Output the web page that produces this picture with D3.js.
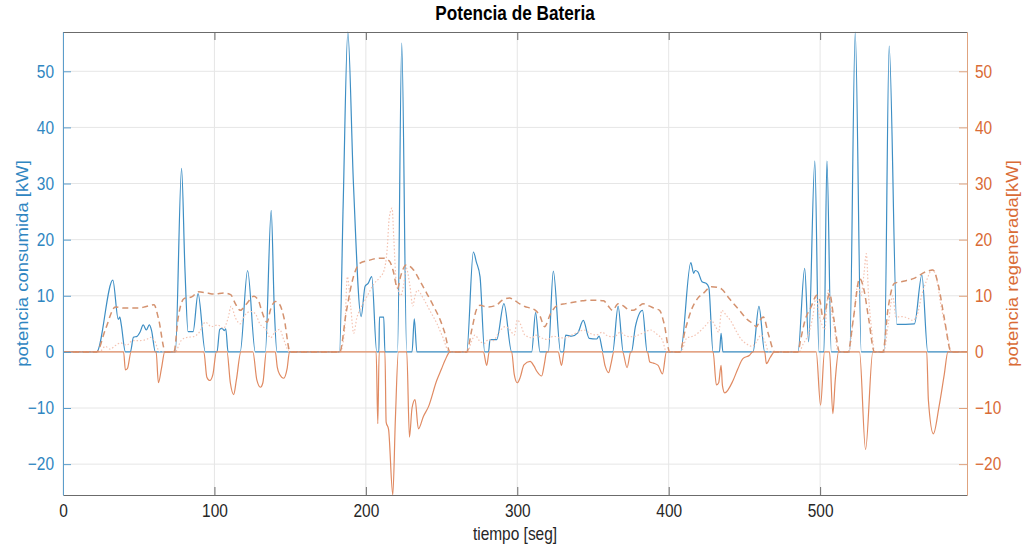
<!DOCTYPE html>
<html>
<head>
<meta charset="utf-8">
<script src="https://cdn.jsdelivr.net/npm/d3@7"></script>
<style>
  body { margin: 0; background: #fff; }
  svg text { font-family: "Liberation Sans", Arial, Helvetica, sans-serif; }
</style>
</head>
<body>
<svg id="chart" width="1026" height="544"></svg>
<script>
// potencia consumida (blue, left axis)
var consT = [0, 22.2, 32.9, 36.5, 37.5, 38.5, 41.2, 44.5, 46.5, 49, 51, 53, 55, 57, 58.5, 61,
  74.2, 78.3, 80.5, 82.6, 85.9, 89.2, 94, 101.7, 103.5, 105, 106.5, 107.5, 109, 117, 121.9, 127,
  133.6, 137.5, 139.5, 141.3, 182.6, 185, 188.1, 191.8, 196.9, 199.5, 201.5, 203.9, 207.2, 208.6,
  209, 211.8, 212.6, 220.9, 223.7, 227, 230.5, 232, 233.7, 266.6, 271, 273, 275.4, 278.5, 281, 282,
  286.4, 291.2, 296.3, 309.5, 312.1, 315, 320.5, 323.8, 328.6, 330.5, 332, 335.8, 340, 343.6, 347.5,
  352.4, 354, 356.8, 363, 366.6, 370, 375.4, 378, 382.7, 385.8, 407.8, 414.6, 416.5, 417.5, 419.4,
  422, 424.9, 426.5, 429.3, 433.5, 434.6, 435.8, 455.7, 459.6, 463.4, 485.4, 489.8, 492.4, 496.5,
  499.2, 502.5, 504.5, 507.4, 519.5, 523.2, 527.2, 542.5, 545.6, 550.7, 562.3, 567.2, 571.1, 597];
var consV = [0, 0, 12.8, 5.8, 6.2, 4.8, 0, 0, 2.6, 2.8, 3.6, 4.8, 3.9, 4.8, 3.8, 0,
  0, 32.7, 15, 3.6, 3.6, 10.4, 0, 0, 4.0, 4.2, 3.8, 4.1, 0, 0, 14.5, 0,
  0, 25.2, 8, 0, 0, 26, 57, 30, 6.3, 11.7, 12.2, 13.4, 0, 0,
  6.2, 6.2, 0, 0, 55, 0, 0, 5.9, 0, 0, 17.8, 16, 13.4, 0, 0, 2.2,
  2.2, 8.6, 0, 0, 7.0, 0, 0, 14.4, 0, 0, 3, 2.8, 3.4, 5.6, 2.4,
  2.3, 2.8, 0, 0, 8.1, 0, 0, 4.5, 7.4, 0, 0, 15.9, 14, 14.5, 14.2,
  12.5, 12.2, 11.5, 0, 0, 3.3, 0, 0, 8.1, 0, 0, 14.9, 1.8, 34,
  0, 0, 34, 0, 0, 57, 0, 0, 54.5, 4.9, 5.0, 13.7, 0, 0];

// potencia regenerada (orange solid, right axis)
var regT = [0, 40, 41.2, 42.5, 45, 61.5, 63, 65, 67.2, 93, 95, 97, 99, 101.3, 108.3, 110.5, 112.7,
  114.5, 117.5, 125.4, 128, 130.4, 132, 134.3, 140.2, 141.5, 143, 145.8, 148, 149.6, 206.8, 207.9,
  208.8, 212.6, 213.4, 215, 217.8, 219.5, 221.5, 227, 228.8, 230.5, 232.5, 234.7, 238, 241.3, 246.8,
  250, 252.3, 255.6, 277.6, 279.8, 281.5, 296.3, 298, 300, 302, 304.4, 308.5, 311, 313, 316.1, 318,
  319.4, 327, 329.2, 331, 355.9, 358, 360.3, 362, 363.8, 369.5, 372.5, 375, 386, 387.5, 390, 393,
  395.9, 398.5, 429.3, 431.5, 433, 434.6, 435.5, 437, 442.5, 445.7, 449, 453.4, 455.5, 463.4, 464.5,
  467, 470, 497.4, 500.3, 502.9, 506.2, 508.4, 510, 512.2, 526, 530, 534.8, 570.4, 571.5, 574.8,
  578.5, 582, 584.4, 597];
var regV = [0, 0, -3.2, -3.0, 0, 0, -5.5, -3, 0, 0, -4.5, -5.1, -4, 0, 0, -5.5, -7.6,
  -5, 0, 0, -5, -6.3, -5.5, 0, 0, -2.7, -4, -4.7, -3, 0, 0, -12.8,
  0, 0, -12.5, -13.8, -25.5, -12, 0, 0, -15.2, -10, -8.5, -13.7, -11.5, -9.8, -5.1,
  -3, -1.5, 0, 0, -2.4, 0, 0, -4, -5.5, -4.5, -2.3, -1.7, -2.5, -3.5, -4.3, -2,
  0, 0, -2.4, 0, 0, -2.5, -3.7, -2, 0, 0, -2.8, 0, 0, -1.8, -2, -2.4,
  -3.9, 0, 0, -5.9, -5.5, -2.4, -6, -7.3, -5.1, -3, -1.2, -0.6, 0, 0, -2.1,
  -1, 0, 0, -9.5, 0, 0, -11, -5, 0, 0, -17.4, 0, 0, -8.6, -14.6,
  -9.8, -4, 0, 0];

// curva discontinua (orange dashed)
var dashT = [0, 22.2, 28, 34.6, 40, 50, 55, 60.1, 63, 67.7, 73.3, 76, 79.9, 85, 89.6, 95, 100,
  106.3, 110.7, 114, 117, 121, 126, 129, 131, 134.8, 137, 140.2, 143, 146, 150, 182.8, 187, 191.8,
  196.2, 202, 206, 211.6, 215.5, 218, 220.9, 223, 226.6, 231.5, 236, 240.3, 245, 249.1, 252, 255.6,
  266.6, 270, 273, 275.4, 280, 286, 290, 294.9, 298, 302, 305, 308.5, 312, 315, 318, 322, 326, 332,
  338, 343, 347, 352, 357, 360, 363, 366.6, 370, 373, 376.5, 380, 383, 387, 391, 394, 397, 400.7,
  407.3, 411, 415, 419, 422.7, 428.2, 432, 435, 440, 446.8, 451, 455.7, 458, 460, 462.5, 466, 470,
  485.4, 487, 490, 494, 497.8, 500, 502, 506.3, 509, 512.9, 518.4, 522, 526.1, 529, 532, 535.9,
  541.4, 545, 549, 555, 562, 570, 574.5, 578, 582, 586.6, 597];
var dashV = [0, 0, 4, 8, 7.8, 7.8, 8.1, 8.4, 6, 0, 0, 6, 9.5, 9.8, 10.7, 10.5, 10.3,
  10.5, 10.2, 8.5, 7.4, 8.5, 9.9, 9.2, 7.5, 5.3, 7.5, 9, 8.5, 6, 0, 0, 7, 13.4,
  15.8, 16.3, 16.6, 16.7, 16.2, 14.5, 11.3, 13.5, 15.5, 14.6, 12.5, 10.4, 8, 5.7, 3.5, 0,
  0, 4, 7.5, 8.3, 8, 8.3, 9.2, 9.6, 9.2, 8.5, 8.1, 7.8, 7.4, 6.4, 4.5, 6.8, 8.2, 8.6,
  8.9, 9.1, 9.2, 9.2, 9.1, 8.2, 7.4, 8.6, 8.2, 7.6, 7.4, 8, 8.6, 8.2, 7.7, 7.4, 5, 0,
  0, 4, 7.5, 9.5, 10.4, 11.6, 11.5, 11.2, 9.5, 7.4, 6, 5, 4.5, 5.5, 6.2, 3, 0,
  0, 2, 5.6, 8, 10.1, 9, 5.9, 10.4, 6, 0, 0, 6, 13.1, 11, 6, 0,
  0, 8, 12.2, 12.6, 13.1, 14.3, 14.6, 12, 6, 0, 0];

// curva punteada (light dotted)
var dotT = [0, 24, 28, 31, 35, 38, 42, 46, 50, 55, 58, 60, 64, 74, 78, 82, 86, 90, 94, 98, 102,
  106, 109, 111, 114, 117, 120, 124, 127, 130, 134, 137, 140, 143, 146, 149.6, 183, 186, 187.8, 190,
  192, 194, 197, 201, 205, 209, 212, 214, 215.5, 217.3, 218.5, 220, 221.5, 223, 225, 226.6, 229,
  231, 232.5, 234, 238, 242, 247, 251, 255, 267, 270, 272, 275, 278, 281, 284, 288, 292, 295, 298,
  300, 302, 305, 310, 312, 316, 320, 324, 328, 332, 336, 340, 344, 348, 352, 356, 360, 364, 368,
  372, 376, 380, 384, 388, 392, 396, 398.5, 408, 412, 416, 420, 424, 428, 431, 433, 435, 438, 441,
  445, 448, 451, 455, 458, 461, 464, 466, 486, 489, 492, 495, 497.5, 499, 501, 503, 505.5, 507,
  509, 512, 519, 522, 525, 527, 529, 530.5, 532, 534, 536, 542, 545, 548, 550, 554, 558, 561, 564,
  567, 570, 574, 576, 580, 584, 586.6, 597];
var dotV = [0, 0, 1, 0.5, 1.2, 1.6, 1.2, 2, 2, 2.2, 2.6, 2.2, 0, 0, 2, 2.6, 2.7, 3.5, 5.3, 4.5, 4.8,
  4.2, 6, 8.1, 6, 5, 6.5, 7.2, 6.8, 5, 4, 2.5, 3.5, 4, 2, 0, 0, 4, 13.4, 8,
  3.3, 6, 8, 10, 12, 13.2, 14.5, 18, 24, 25.6, 20, 12.5, 10.8, 10, 12, 15, 12,
  8.2, 10, 11, 9.5, 7.5, 5, 2.5, 0, 0, 2, 3, 2, 1.5, 2.2, 2, 3.5, 4.5, 4, 3,
  5.7, 5, 3, 2.5, 3, 2.5, 2.2, 2.8, 2.5, 2.5, 3, 3.5, 3.9, 3.3, 3, 3.5, 2.8, 2.7, 3.5,
  2.8, 2.7, 3, 3.5, 3.9, 3.2, 2, 0, 0, 2.5, 2.8, 3.5, 4.6, 5.6, 4.5, 3.5, 7.4, 6.5, 5.5,
  3.5, 2.2, 1.5, 1, 1.8, 3, 1.5, 0, 0, 1.5, 3, 6, 10, 7, 5, 4, 11, 8,
  5, 0, 0, 6, 12, 10, 14, 17.5, 10, 4, 0, 0, 5, 10, 6.2, 6.3, 6.0, 5.6, 6.5,
  10, 12.5, 14.6, 14, 8, 3, 0, 0];

var xTicks = [0, 100, 200, 300, 400, 500];
var yTicks = [-20, -10, 0, 10, 20, 30, 40, 50];

var titleText = 'Potencia de Bateria';
var xLabel = 'tiempo [seg]';
var yLeftLabel = 'potencia consumida [kW]';
var yRightLabel = 'potencia regenerada[kW]';

var blue = '#3d8ec4', blueText = '#2f86c1', blueAxis = '#5b9dcb';
var orange = '#e08a62', orangeText = '#d96b36', orangeAxis = '#dfa37f';
var dashColor = '#d4926f', dotColor = '#f4c3b2';

var margin = {top: 32, right: 59, bottom: 49, left: 63},
    width = 1026 - margin.left - margin.right,
    height = 544 - margin.top - margin.bottom;

var squeezeX = 0.86;

var svg = d3.select('#chart');
var g = svg.append('g').attr('transform', 'translate(' + margin.left + ',' + margin.top + ')');

var x = d3.scaleLinear().domain([0, 597]).range([0, width]);

var allV = consV.concat(regV, dashV, dotV);
var yLeft = d3.scaleLinear().domain(d3.extent(allV)).range([height, 0]);
var yRight = d3.scaleLinear().domain(d3.extent(allV)).range([height, 0]);

// grid
g.append('g').selectAll('line').data(xTicks).enter().append('line')
  .attr('x1', function(d) { return x(d); }).attr('x2', function(d) { return x(d); })
  .attr('y1', 0).attr('y2', height)
  .attr('stroke', '#e6e6e6').attr('stroke-width', 1);
g.append('g').selectAll('line').data(yTicks).enter().append('line')
  .attr('x1', 0).attr('x2', width)
  .attr('y1', function(d) { return yLeft(d); }).attr('y2', function(d) { return yLeft(d); })
  .attr('stroke', '#e6e6e6').attr('stroke-width', 1);

g.append('clipPath').attr('id', 'clip').append('rect')
  .attr('x', 0).attr('y', -1).attr('width', width).attr('height', height + 2);

var plot = g.append('g').attr('clip-path', 'url(#clip)');

function lineFor(scale) {
  return d3.line().curve(d3.curveMonotoneX)
    .x(function(d) { return x(d[0]); }).y(function(d) { return scale(d[1]); });
}

plot.append('path').datum(d3.zip(consT, consV))
  .attr('fill', 'none').attr('stroke', blue).attr('stroke-width', 1.2)
  .attr('d', lineFor(yLeft));

plot.append('path').datum(d3.zip(dotT, dotV))
  .attr('fill', 'none').attr('stroke', dotColor).attr('stroke-width', 1.2)
  .attr('stroke-dasharray', '1.5,2')
  .attr('d', lineFor(yRight));

plot.append('path').datum(d3.zip(dashT, dashV))
  .attr('fill', 'none').attr('stroke', dashColor).attr('stroke-width', 1.5)
  .attr('stroke-dasharray', '6,4')
  .attr('d', lineFor(yRight));

plot.append('path').datum(d3.zip(regT, regV))
  .attr('fill', 'none').attr('stroke', orange).attr('stroke-width', 1.2)
  .attr('d', lineFor(yRight));

// squeeze text horizontally like the reference
function squeeze(sel) {
  sel.each(function() {
    var t = d3.select(this);
    var tx = +t.attr('x') || 0, ty = +t.attr('y') || 0;
    t.attr('x', 0).attr('y', 0)
      .attr('transform', 'translate(' + tx + ',' + ty + ') scale(' + squeezeX + ',1)');
  });
}

// axes
var xAxis = g.append('g').attr('transform', 'translate(0,' + height + ')')
  .call(d3.axisBottom(x).tickValues(xTicks).tickSizeInner(-8).tickSizeOuter(0).tickPadding(9));
var xTop = g.append('g')
  .call(d3.axisTop(x).tickValues(xTicks).tickSizeInner(-8).tickSizeOuter(0).tickFormat(''));
[xAxis, xTop].forEach(function(a) {
  a.select('.domain').attr('stroke', '#6b6b6b');
  a.selectAll('.tick line').attr('stroke', '#6b6b6b');
});
xAxis.selectAll('text').attr('fill', '#262626').style('font-size', '18px').call(squeeze);

var yAxisL = g.append('g')
  .call(d3.axisLeft(yLeft).tickValues(yTicks).tickSizeInner(-8).tickSizeOuter(0).tickPadding(9));
yAxisL.select('.domain').attr('stroke', blueAxis);
yAxisL.selectAll('.tick line').attr('stroke', blueAxis);
yAxisL.selectAll('text').attr('fill', blueText).style('font-size', '18px').call(squeeze);

var yAxisR = g.append('g').attr('transform', 'translate(' + width + ',0)')
  .call(d3.axisRight(yRight).tickValues(yTicks).tickSizeInner(-8).tickSizeOuter(0).tickPadding(8));
yAxisR.select('.domain').attr('stroke', orangeAxis);
yAxisR.selectAll('.tick line').attr('stroke', orangeAxis);
yAxisR.selectAll('text').attr('fill', orangeText).style('font-size', '18px').call(squeeze);

// labels
svg.append('text')
  .attr('transform', 'translate(' + (margin.left + width / 2) + ',20) scale(' + squeezeX + ',1)')
  .attr('text-anchor', 'middle').style('font-size', '20px').style('font-weight', 'bold')
  .attr('fill', '#000').text(titleText);

svg.append('text')
  .attr('transform', 'translate(' + (margin.left + width / 2) + ',540) scale(' + squeezeX + ',1)')
  .attr('text-anchor', 'middle').style('font-size', '18px')
  .attr('fill', '#262626').text(xLabel);

svg.append('text')
  .attr('transform', 'translate(28,' + (margin.top + height / 2) + ') scale(' + squeezeX + ',1) rotate(-90)')
  .attr('text-anchor', 'middle').style('font-size', '18.5px')
  .attr('fill', blueText).text(yLeftLabel);

svg.append('text')
  .attr('transform', 'translate(1018,' + (margin.top + height / 2) + ') scale(' + squeezeX + ',1) rotate(-90)')
  .attr('text-anchor', 'middle').style('font-size', '18.5px')
  .attr('fill', orangeText).text(yRightLabel);
</script>
</body>
</html>
